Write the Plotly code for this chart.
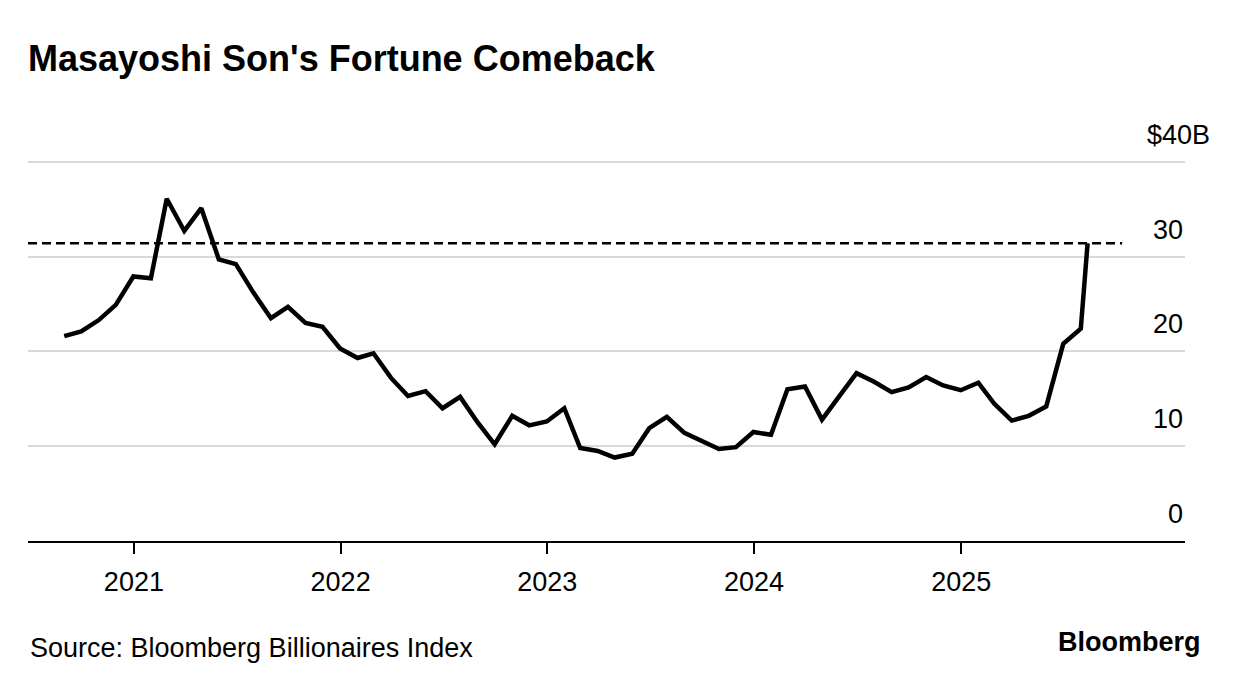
import pandas as pd
import plotly.graph_objects as go

# Net worth in $ billions, month-end readings Aug 2020 .. Jul 2025
months = pd.date_range("2020-08-31", periods=60, freq="ME")
net_worth = [
    21.6, 22.1, 23.3, 24.9, 27.9,                                      # 2020 Aug-Dec
    27.7, 36.1, 32.7, 35.1, 29.7, 29.2, 26.2, 23.5, 24.7, 23.0, 22.6, 20.3,  # 2021
    19.3, 19.8, 17.2, 15.3, 15.8, 14.0, 15.2, 12.5, 10.2, 13.2, 12.2, 12.6,  # 2022
    14.0, 9.8, 9.5, 8.8, 9.2, 11.9, 13.1, 11.4, 10.5, 9.7, 9.9, 11.5,        # 2023
    11.2, 16.0, 16.3, 12.8, 15.3, 17.7, 16.8, 15.7, 16.2, 17.3, 16.4, 15.9,  # 2024
    16.7, 14.5, 12.7, 13.2, 14.2, 20.8, 22.4,                                # 2025 Jan-Jul
]
# latest daily reading
latest_date = "2025-08-12"
latest_value = 31.4

# dashed reference at the current level
ref_start = "2020-06-28"
ref_end = "2025-10-12"

x_range = ["2020-06-28", "2026-01-31"]
year_ticks = ["2021-01-01", "2022-01-01", "2023-01-01", "2024-01-01", "2025-01-01"]
year_labels = ["2021", "2022", "2023", "2024", "2025"]
y_ticks = [0, 10, 20, 30, 40]
y_labels = ["0", "10", "20", "30", "$40B"]

FONT = "Liberation Sans, Arial, sans-serif"
# the page body adds an 8px margin, so the figure is drawn from (8, 8)
OFF = 8
W, H = 1240 - OFF, 690 - OFF
M_L, M_R, M_T, M_B = 28 - OFF, 55, 157 - OFF, 149
plot_h = H - M_T - M_B


def paper_y(px):
    # pixel row on the page -> paper coordinate
    return (H - M_B - (px - OFF)) / plot_h


def paper_x(px):
    return (px - OFF - M_L) / (W - M_L - M_R)


dates = list(months) + [pd.Timestamp(latest_date)]
values = net_worth + [latest_value]

fig = go.Figure()

fig.add_trace(go.Scatter(
    x=[ref_start, ref_end], y=[latest_value, latest_value],
    mode="lines", line=dict(color="black", width=2.5, dash="9px,5px"),
    hoverinfo="skip",
))

fig.add_trace(go.Scatter(
    x=dates, y=values, mode="lines",
    line=dict(color="black", width=4.5),
    hovertemplate="%{x|%b %Y}: $%{y:.1f}B<extra></extra>",
))

# y labels sit above the gridlines on the right
for v, lab in zip(y_ticks, y_labels):
    fig.add_annotation(
        x=1, xref="paper", y=v, yref="y", text=lab, showarrow=False,
        xanchor="right", yanchor="middle", yshift=27,
        xshift=27 if lab.endswith("B") else 0,
        font=dict(size=27, color="black", family=FONT),
    )

fig.add_annotation(
    x=0, xref="paper", y=paper_y(648), yref="paper",
    text="Source: Bloomberg Billionaires Index", showarrow=False,
    xanchor="left", yanchor="middle",
    font=dict(size=27, color="black", family=FONT),
)
fig.add_annotation(
    x=paper_x(1203), xref="paper", y=paper_y(642), yref="paper",
    text="<b>Bloomberg</b>", showarrow=False,
    xanchor="right", yanchor="middle",
    font=dict(size=27, color="black", family=FONT),
)

fig.update_layout(
    width=W, height=H,
    margin=dict(l=M_L, r=M_R, t=M_T, b=M_B),
    paper_bgcolor="white", plot_bgcolor="white",
    showlegend=False,
    font=dict(family=FONT, color="black"),
    title=dict(
        text="<b>Masayoshi Son's Fortune Comeback</b>",
        x=M_L / W, xanchor="left", xref="container",
        y=1 - (58 - OFF) / H, yanchor="middle", yref="container",
        font=dict(size=36, color="black", family=FONT),
    ),
    xaxis=dict(
        range=x_range, showgrid=False, zeroline=False,
        showline=True, linecolor="black", linewidth=2,
        ticks="outside", ticklen=11, tickwidth=1.5, tickcolor="black",
        tickvals=year_ticks, ticktext=year_labels,
        tickfont=dict(size=27, color="black"),
        ticklabelstandoff=5,
    ),
    yaxis=dict(
        range=[0, 40.5], showgrid=True, gridcolor="#d9d9d9", gridwidth=2,
        tickvals=y_ticks[1:], showticklabels=False, zeroline=False,
    ),
)

fig.write_html("out.html")
